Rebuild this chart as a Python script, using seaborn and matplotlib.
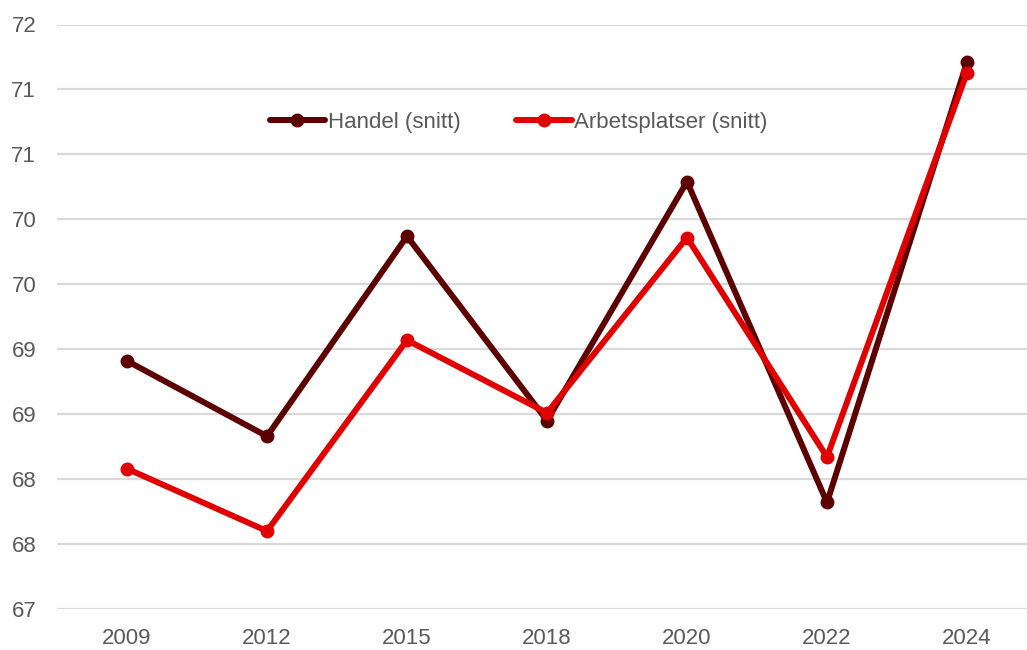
import math

import pandas as pd
import seaborn as sns
import matplotlib.pyplot as plt
from matplotlib.ticker import FuncFormatter, MultipleLocator

years = ["2009", "2012", "2015", "2018", "2020", "2022", "2024"]
handel = [68.91, 68.33, 69.87, 68.45, 70.29, 67.82, 71.21]
arbetsplatser = [68.08, 67.60, 69.07, 68.51, 69.86, 68.17, 71.13]
series_names = ["Handel (snitt)", "Arbetsplatser (snitt)"]
colors = ["#5c0000", "#e00000"]

df = pd.DataFrame({
    "year": years * 2,
    "value": handel + arbetsplatser,
    "series": [series_names[0]] * len(years) + [series_names[1]] * len(years),
})

sns.set_style("white")
plt.rcParams["font.family"] = ["Liberation Sans", "DejaVu Sans"]

fig = plt.figure(figsize=(10.27, 6.5), dpi=100)
ax = fig.add_axes([57 / 1027, 1 - 609 / 650, 980 / 1027, 584.5 / 650])

sns.lineplot(data=df, x="year", y="value", hue="series", palette=colors,
             marker="o", markersize=10, markeredgewidth=0, linewidth=4.3,
             sort=False, ax=ax)

ax.set_xlim(-0.5, len(years) - 0.5)
ax.set_ylim(67, 71.5)
ax.yaxis.set_major_locator(MultipleLocator(0.5))
ax.yaxis.set_major_formatter(FuncFormatter(lambda v, p: f"{int(math.floor(v + 0.5))}"))
ax.grid(axis="y", color="#d9d9d9", linewidth=1.6)
ax.set_axisbelow(True)
for s in ax.spines.values():
    s.set_visible(False)
ax.tick_params(axis="both", length=0, labelsize=16, colors="#595959")
ax.tick_params(axis="y", pad=15)
ax.tick_params(axis="x", pad=14)
ax.set_xlabel("")
ax.set_ylabel("")

leg = ax.legend(loc="center left", bbox_to_anchor=(0.217, 0.833), frameon=False,
                fontsize=16, handlelength=2.5, handletextpad=0.12,
                columnspacing=2.5, ncol=2, borderaxespad=0, borderpad=0)
for t in leg.get_texts():
    t.set_color("#595959")

fig.savefig("out.png", dpi=100)
plt.close()
